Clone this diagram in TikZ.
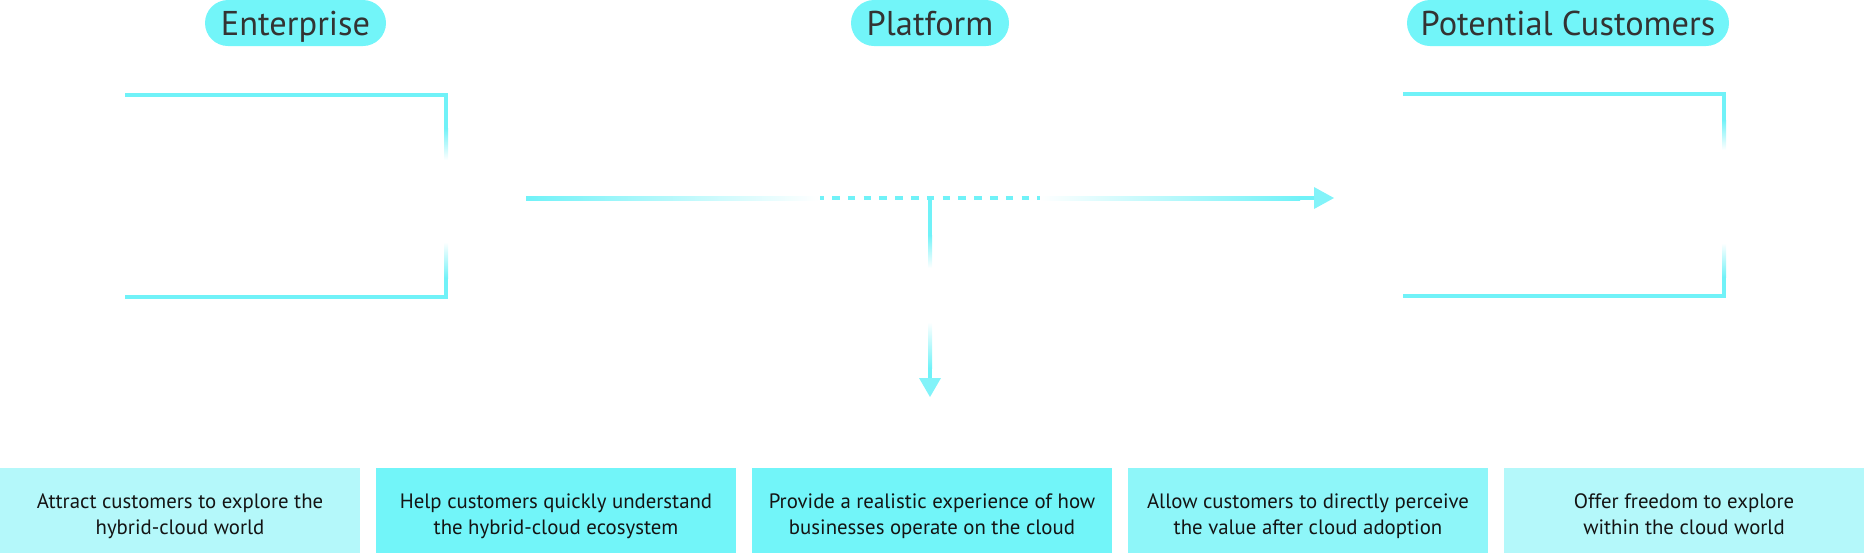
\documentclass[tikz,border=0pt]{standalone}
\usepackage{fontspec}
\setmainfont{PT Sans}
\definecolor{cyanA}{RGB}{114,245,249}
\definecolor{lineC}{RGB}{112,242,248}
\definecolor{headC}{RGB}{130,243,249}
\definecolor{boxL}{RGB}{180,248,250}
\definecolor{boxM}{RGB}{142,246,249}
\definecolor{boxS}{RGB}{114,245,249}
\definecolor{txtD}{RGB}{51,51,51}
\definecolor{txtB}{RGB}{20,20,20}
\begin{document}
\begin{tikzpicture}[x=0.5pt,y=-0.5pt,
  pill/.style={fill=cyanA, rounded corners=11.5pt, minimum height=23pt, inner sep=0pt,
    text=txtD, font=\fontsize{17.2}{19}\selectfont, text height=12pt, text depth=0pt},
  goalbox/.style={fill=#1, minimum width=180pt, minimum height=42.5pt, inner sep=0pt, anchor=north west},
  goaltext/.style={align=center, font=\fontsize{10.4}{13}\selectfont, text=txtB, inner sep=0pt, anchor=base}]
\useasboundingbox (0,0) rectangle (1864,553);
% headers
\node[pill, minimum width=90.5pt] (ent) at (295.5,23) {Enterprise};
\node[pill, minimum width=79pt] (plat) at (930,23) {Platform};
\node[pill, minimum width=161pt] (cust) at (1568,23) {Potential Customers};
% left bracket
\fill[lineC] (125,93) rectangle (448,97);
\fill[lineC] (444,93) rectangle (448,128);
\shade[top color=lineC, bottom color=white] (444,128) rectangle (448,160);
\shade[top color=white, bottom color=lineC] (444,242) rectangle (448,278);
\fill[lineC] (444,278) rectangle (448,299);
\fill[lineC] (125,295) rectangle (448,299);
% right bracket
\fill[lineC] (1403,92) rectangle (1726,96);
\fill[lineC] (1722,92) rectangle (1726,120);
\shade[top color=lineC, bottom color=white] (1722,120) rectangle (1726,150);
\shade[top color=white, bottom color=lineC] (1722,243) rectangle (1726,277);
\fill[lineC] (1722,277) rectangle (1726,298);
\fill[lineC] (1403,294) rectangle (1726,298);
% horizontal flow
\shade[left color=lineC, right color=white] (526,196) rectangle (818,200);
\draw[lineC, line width=2pt, dash pattern=on 3.75pt off 4.15pt, dash phase=1.875pt] (820,198) -- (1040,198);
\shade[left color=white, right color=lineC] (1040,196) rectangle (1300,200);
\fill[lineC] (1299,196) rectangle (1316,200);
\fill[headC] (1314,187) -- (1334,198) -- (1314,209) -- cycle;
% vertical flow
\fill[lineC] (928,198) rectangle (932,235);
\shade[top color=lineC, bottom color=white] (928,235) rectangle (932,268);
\shade[top color=white, bottom color=lineC] (928,322) rectangle (932,368);
\fill[lineC] (928,368) rectangle (932,380);
\fill[headC] (919,378) -- (941,378) -- (930,397) -- cycle;
% goals
\node[goalbox=boxL] (g1) at (0,468) {};
\node[goalbox=boxS] (g2) at (376,468) {};
\node[goalbox=boxS] (g3) at (752,468) {};
\node[goalbox=boxM] (g4) at (1128,468) {};
\node[goalbox=boxL] (g5) at (1504,468) {};
\node[goaltext] (t1) at (180,534) {Attract customers to explore the\\hybrid-cloud world};
\node[goaltext] (t2) at (556,534) {Help customers quickly understand\\the hybrid-cloud ecosystem};
\node[goaltext] (t3) at (932,534) {Provide a realistic experience of how\\businesses operate on the cloud};
\node[goaltext] (t4) at (1308,534) {Allow customers to directly perceive\\the value after cloud adoption};
\node[goaltext] (t5) at (1684,534) {Offer freedom to explore\\within the cloud world};
\end{tikzpicture}
\end{document}
